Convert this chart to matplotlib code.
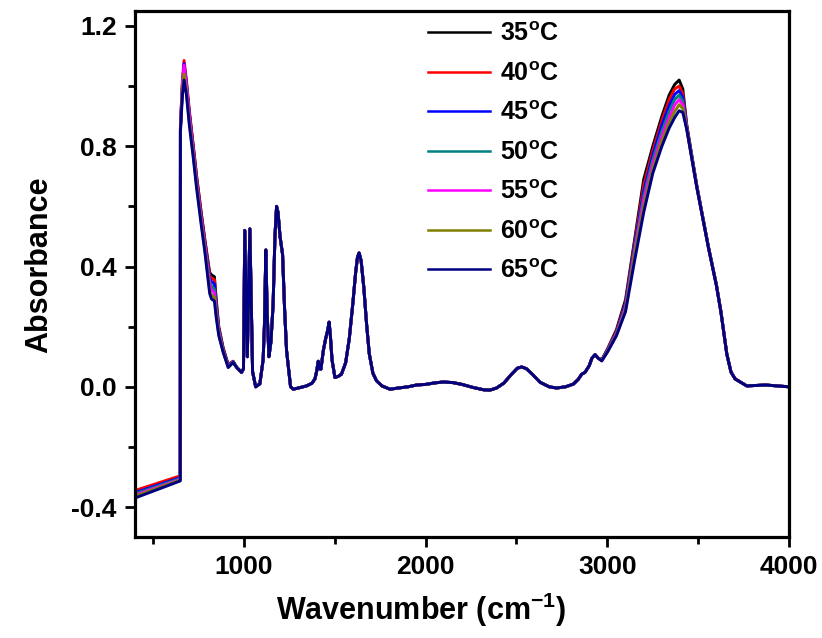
"""
FTIR absorbance spectra at different temperatures (35-65 C).
Values are read off the reference chart by eye.
"""

import matplotlib
matplotlib.use("Agg")
import matplotlib.pyplot as plt
from matplotlib.ticker import MultipleLocator, FormatStrFormatter

plt.rcParams["font.family"] = ["Liberation Sans", "DejaVu Sans"]
plt.rcParams["font.weight"] = "bold"
plt.rcParams["mathtext.fontset"] = "custom"
plt.rcParams["mathtext.rm"] = "Liberation Sans:bold"
plt.rcParams["mathtext.it"] = "Liberation Sans:bold"
plt.rcParams["mathtext.bf"] = "Liberation Sans:bold"

temperatures = ["35", "40", "45", "50", "55", "60", "65"]
colors = ["#000000", "#ff0000", "#0000ff", "#008080", "#ff00ff", "#808000", "#000080"]

# low-wavenumber part (baseline offset + 680 band), differs per temperature
wn_low = [400, 650, 651, 662, 671, 684, 700, 720, 740, 765, 785, 812, 822, 838, 848, 862, 886, 914, 941]
low = {
    "35": [-0.348, -0.298, 0.86, 0.99, 1.050, 1.00, 0.91, 0.81, 0.70, 0.58, 0.49, 0.38, 0.372, 0.366, 0.29, 0.20, 0.130, 0.074, 0.085],
    "40": [-0.345, -0.296, 0.87, 1.02, 1.085, 1.02, 0.92, 0.81, 0.70, 0.58, 0.49, 0.37, 0.362, 0.356, 0.28, 0.195, 0.127, 0.072, 0.084],
    "45": [-0.352, -0.302, 0.86, 1.01, 1.075, 1.01, 0.91, 0.80, 0.69, 0.57, 0.48, 0.36, 0.350, 0.342, 0.27, 0.19, 0.124, 0.070, 0.083],
    "50": [-0.356, -0.305, 0.86, 1.00, 1.060, 1.00, 0.90, 0.79, 0.68, 0.56, 0.47, 0.35, 0.335, 0.325, 0.26, 0.185, 0.121, 0.068, 0.083],
    "55": [-0.360, -0.308, 0.86, 1.01, 1.070, 1.00, 0.90, 0.79, 0.68, 0.56, 0.47, 0.34, 0.322, 0.312, 0.25, 0.18, 0.119, 0.067, 0.082],
    "60": [-0.364, -0.310, 0.85, 0.99, 1.040, 0.98, 0.88, 0.78, 0.67, 0.55, 0.46, 0.32, 0.305, 0.298, 0.24, 0.175, 0.117, 0.065, 0.081],
    "65": [-0.370, -0.313, 0.85, 0.97, 1.020, 0.97, 0.87, 0.77, 0.66, 0.54, 0.45, 0.31, 0.292, 0.285, 0.23, 0.170, 0.115, 0.064, 0.081],
}

# fingerprint region, practically identical for all temperatures
wn_mid = [960, 987, 998, 1005, 1019, 1033, 1048, 1065, 1088, 1106, 1113, 1121, 1128, 1138, 1149, 1161, 1171,
          1180, 1188, 1199, 1213, 1224, 1235, 1257, 1272, 1300, 1345, 1375, 1391, 1400, 1409, 1416, 1424,
          1437, 1450, 1462, 1469, 1476, 1485, 1501, 1520, 1537, 1560, 1580, 1600, 1615, 1625, 1634, 1645,
          1660, 1675, 1690, 1710, 1730, 1760, 1804, 1850, 1904, 1950, 2000, 2050, 2097, 2150, 2200, 2260,
          2320, 2354, 2390, 2430, 2470, 2505, 2529, 2555, 2590, 2630, 2680, 2721, 2770, 2813, 2840, 2859,
          2877, 2900, 2915, 2932, 2950]
mid = [0.065, 0.048, 0.06, 0.52, 0.10, 0.525, 0.05, 0.0, 0.01, 0.09, 0.20, 0.455, 0.25, 0.10, 0.15, 0.275, 0.50,
       0.60, 0.58, 0.50, 0.44, 0.26, 0.12, 0.0, -0.008, -0.004, 0.003, 0.012, 0.026, 0.05, 0.085, 0.06, 0.059,
       0.12, 0.160, 0.19, 0.215, 0.17, 0.09, 0.031, 0.035, 0.042, 0.08, 0.16, 0.28, 0.38, 0.43, 0.445, 0.42,
       0.33, 0.21, 0.11, 0.045, 0.02, 0.003, -0.008, -0.004, 0.0, 0.006, 0.008, 0.013, 0.016, 0.014, 0.008, -0.002,
       -0.010, -0.011, -0.004, 0.012, 0.04, 0.062, 0.066, 0.06, 0.04, 0.015, 0.0, -0.004, 0.0, 0.009, 0.025, 0.042,
       0.048, 0.07, 0.095, 0.107, 0.095]

# O-H stretching band, intensity drops with temperature
wn_oh = [2969, 3000, 3050, 3100, 3150, 3200, 3250, 3300, 3340, 3370, 3395, 3415, 3437, 3492, 3556, 3600, 3625, 3657, 3680, 3703, 3767, 3870, 4000]
oh = {
    "35": [0.090, 0.125, 0.19, 0.29, 0.49, 0.69, 0.80, 0.90, 0.970, 1.005, 1.020, 0.990, 0.870, 0.670, 0.466, 0.340, 0.250, 0.110, 0.050, 0.027, 0.003, 0.006, 0.0],
    "40": [0.089, 0.123, 0.185, 0.28, 0.48, 0.67, 0.785, 0.885, 0.955, 0.990, 1.000, 0.975, 0.866, 0.668, 0.465, 0.339, 0.250, 0.110, 0.050, 0.027, 0.003, 0.006, 0.0],
    "45": [0.088, 0.121, 0.18, 0.275, 0.47, 0.65, 0.77, 0.87, 0.935, 0.972, 0.985, 0.962, 0.863, 0.667, 0.464, 0.338, 0.249, 0.110, 0.050, 0.026, 0.003, 0.006, 0.0],
    "50": [0.088, 0.120, 0.178, 0.268, 0.46, 0.635, 0.755, 0.850, 0.915, 0.955, 0.970, 0.950, 0.861, 0.666, 0.464, 0.338, 0.249, 0.109, 0.049, 0.026, 0.003, 0.006, 0.0],
    "55": [0.087, 0.118, 0.175, 0.262, 0.45, 0.62, 0.74, 0.835, 0.895, 0.937, 0.955, 0.938, 0.858, 0.665, 0.463, 0.337, 0.248, 0.109, 0.049, 0.026, 0.003, 0.006, 0.0],
    "60": [0.087, 0.116, 0.172, 0.256, 0.44, 0.60, 0.725, 0.818, 0.878, 0.915, 0.938, 0.925, 0.856, 0.664, 0.463, 0.337, 0.248, 0.109, 0.049, 0.026, 0.003, 0.006, 0.0],
    "65": [0.086, 0.115, 0.170, 0.250, 0.42, 0.58, 0.710, 0.800, 0.860, 0.895, 0.918, 0.912, 0.855, 0.663, 0.463, 0.336, 0.247, 0.109, 0.049, 0.026, 0.003, 0.006, 0.0],
}

fig = plt.figure(figsize=(8.22, 6.38), dpi=100)
ax = fig.add_axes([0.164, 0.158, 0.796, 0.825])

for temp, color in zip(temperatures, colors):
    x = wn_low + wn_mid + wn_oh
    y = low[temp] + mid + oh[temp]
    ax.plot(x, y, color=color, linewidth=2.1, label=temp + r"$^\mathrm{o}$C")

ax.set_xlim(400, 4000)
ax.set_ylim(-0.5, 1.25)
ax.xaxis.set_major_locator(MultipleLocator(1000))
ax.xaxis.set_minor_locator(MultipleLocator(500))
ax.yaxis.set_major_locator(MultipleLocator(0.4))
ax.yaxis.set_minor_locator(MultipleLocator(0.2))
ax.yaxis.set_major_formatter(FormatStrFormatter("%.1f"))

for side in ax.spines.values():
    side.set_linewidth(2.3)
ax.tick_params(which="major", direction="out", length=7, width=2.0, labelsize=19, pad=6)
ax.tick_params(which="minor", direction="out", length=5, width=2.0)

ax.set_xlabel(r"Wavenumber (cm$^\mathrm{-1}$)", fontsize=22, fontweight="bold", x=0.437, labelpad=8)
ax.set_ylabel("Absorbance", fontsize=22, fontweight="bold", labelpad=12, y=0.517)

leg = ax.legend(loc="upper left", bbox_to_anchor=(0.421, 1.012), frameon=False, fontsize=18,
                handlelength=2.5, handletextpad=0.4, labelspacing=0.62, borderpad=0.2)
for line in leg.get_lines():
    line.set_linewidth(1.8)

fig.savefig("out.png", dpi=100)
